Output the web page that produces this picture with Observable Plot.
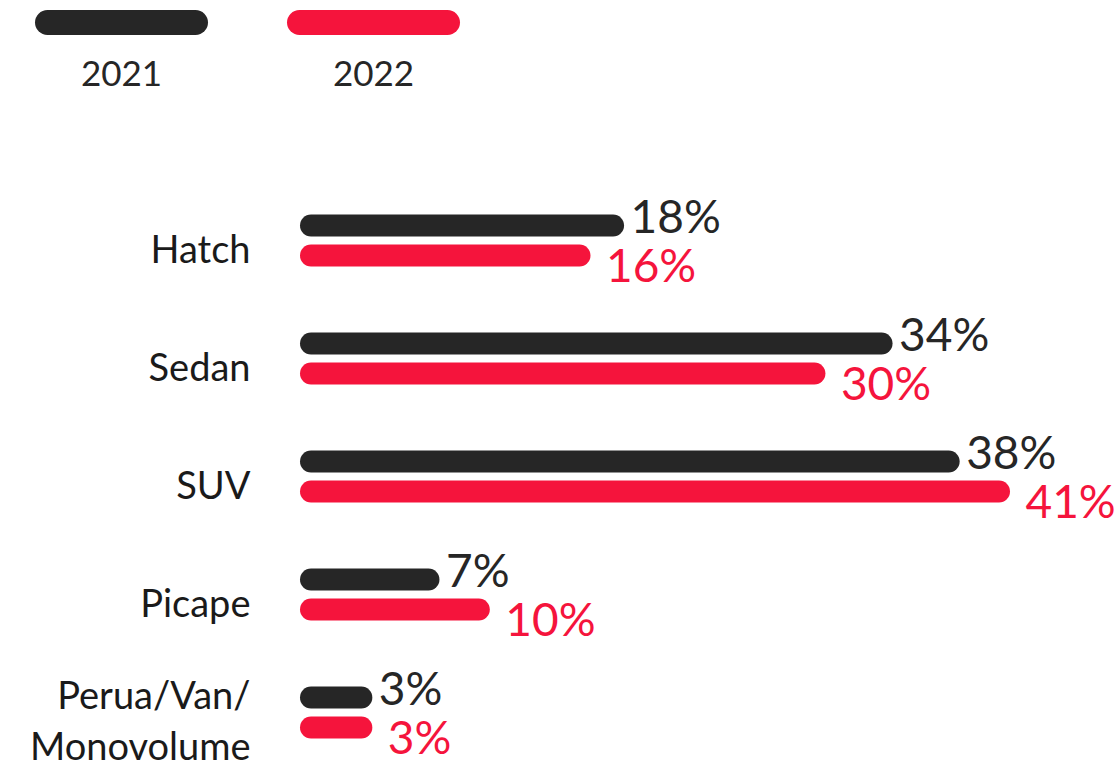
<!DOCTYPE html>
<html><head><meta charset="utf-8">
<script src="https://cdn.jsdelivr.net/npm/d3@7"></script>
<script src="https://cdn.jsdelivr.net/npm/@observablehq/plot@0.6"></script>
<style>
body{margin:0;background:#fff;font-family:Lato,sans-serif;}
#legend{position:relative;height:128px;width:1120px;}
.sw{position:absolute;top:10px;width:173px;height:25px;border-radius:12.5px;}
.lb{position:absolute;top:50px;width:173px;text-align:center;font-size:35px;color:#262626;line-height:44px;}
</style></head><body>
<div id="legend"></div><div id="chart"></div>
<script>
const categories = ["Hatch", "Sedan", "SUV", "Picape", "Perua/Van/\nMonovolume"];
const years = ["2021", "2022"];
const values2021 = [18, 34, 38, 7, 3];
const values2022 = [16, 30, 41, 10, 3];
const colors = ["#262626", "#f5143c"];

// legend
const legend = document.getElementById("legend");
const legendLeft = [35, 287];
years.forEach((yr, i) => {
  const sw = document.createElement("div");
  sw.className = "sw"; sw.style.left = legendLeft[i] + "px"; sw.style.background = colors[i];
  const lb = document.createElement("div");
  lb.className = "lb"; lb.style.left = legendLeft[i] + "px"; lb.textContent = yr;
  legend.appendChild(sw); legend.appendChild(lb);
});

const rows2021 = categories.map((c, i) => ({cat: c, v: values2021[i]}));
const rows2022 = categories.map((c, i) => ({cat: c, v: values2022[i]}));
const catRows = categories.map(c => ({cat: c}));

const chart = Plot.plot({
  width: 1120,
  height: 640,
  marginLeft: 311,
  marginRight: 121,
  marginTop: 112,
  marginBottom: 56,
  style: {fontFamily: "Lato, sans-serif", background: "#fff"},
  x: {domain: [0, d3.max([...values2021, ...values2022])], axis: null},
  y: {type: "point", domain: categories, padding: 0, axis: null},
  marks: [
    Plot.ruleY(rows2021, {y: "cat", x1: d => 0, x2: "v", stroke: colors[0], strokeWidth: 22, strokeLinecap: "round", dy: -15}),
    Plot.ruleY(rows2022, {y: "cat", x1: d => 0, x2: "v", stroke: colors[1], strokeWidth: 22, strokeLinecap: "round", dy: 15}),
    Plot.text(rows2021, {x: "v", y: "cat", text: d => d.v + "%", textAnchor: "start", dx: 17, dy: -22, fill: colors[0], fontSize: 46}),
    Plot.text(rows2022, {x: "v", y: "cat", text: d => d.v + "%", textAnchor: "start", dx: 26, dy: 27, fill: colors[1], fontSize: 46}),
    Plot.text(catRows, {x: d => 0, y: "cat", text: "cat", textAnchor: "end", dx: -61, dy: 6, fill: "#1a1a1a", fontSize: 38, lineHeight: 1.32})
  ]
});
document.getElementById("chart").appendChild(chart);
</script>
</body></html>
